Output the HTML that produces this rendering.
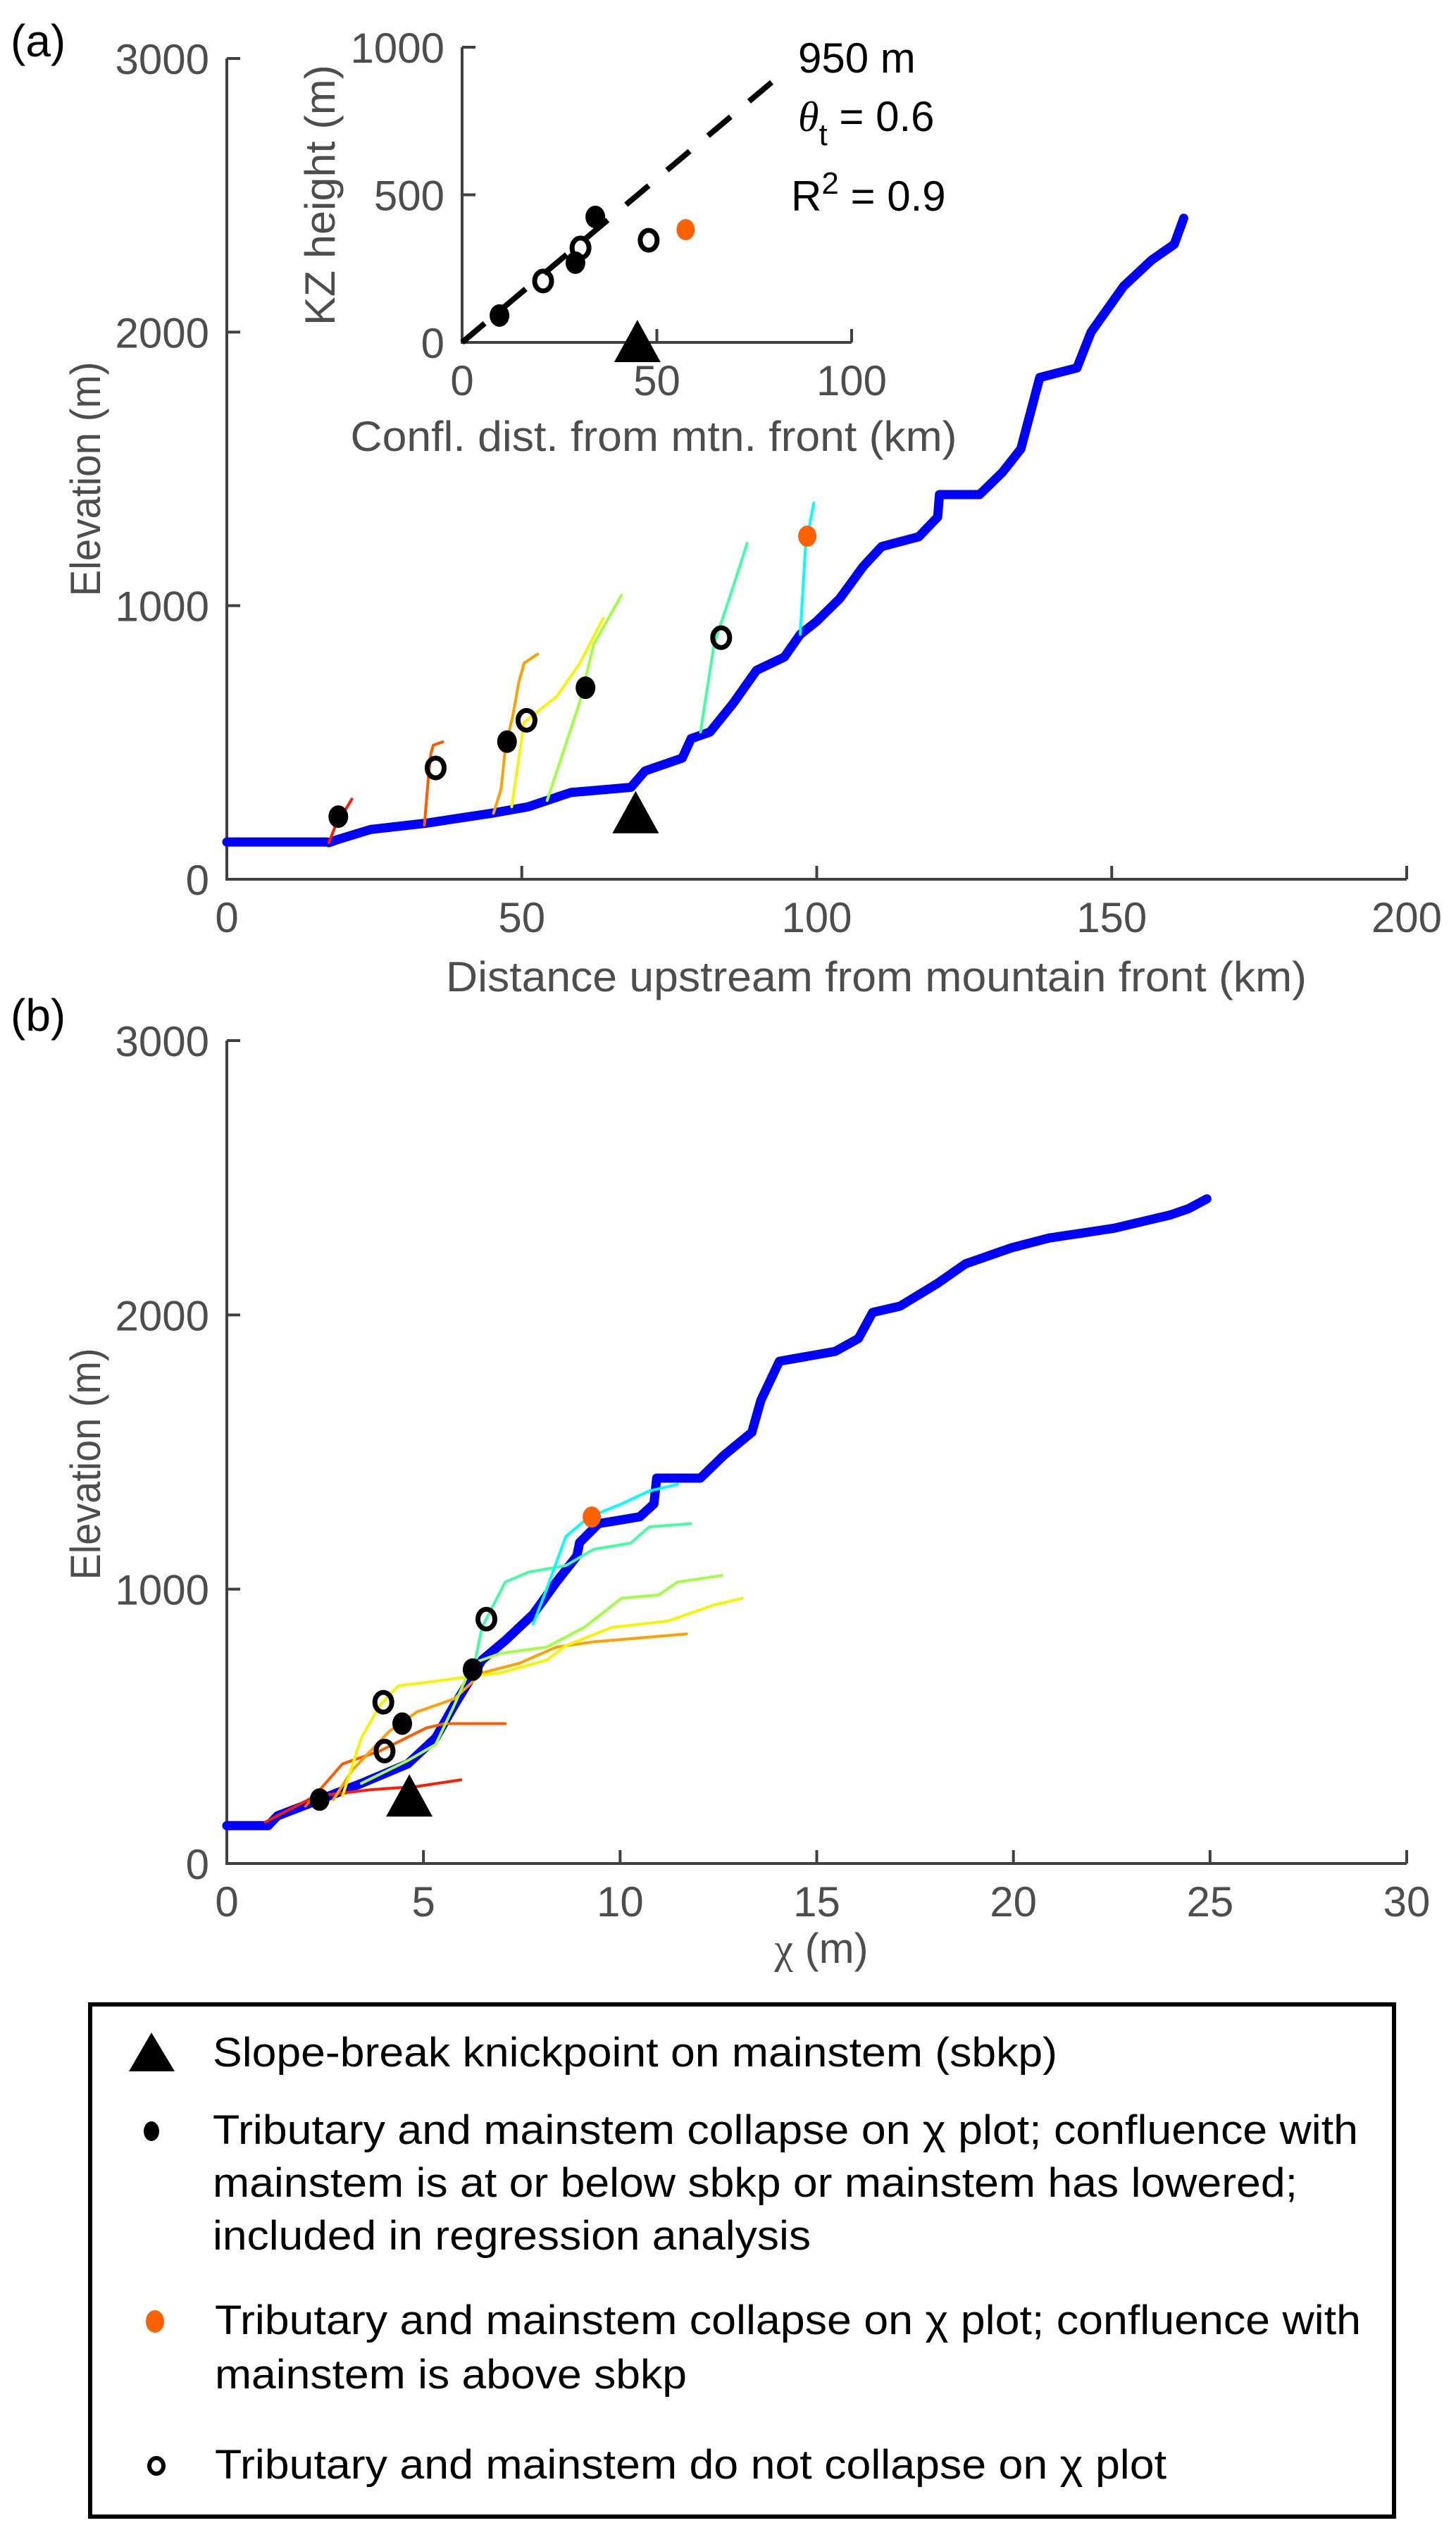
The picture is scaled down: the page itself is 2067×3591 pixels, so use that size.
<!DOCTYPE html>
<html><head><meta charset="utf-8"><style>
html,body{margin:0;padding:0;background:#fff;}
svg{display:block;font-family:"Liberation Sans",Arial,sans-serif;}
</style></head><body>
<svg id="fig" width="2067" height="3591" viewBox="0 0 2067 3591" xmlns="http://www.w3.org/2000/svg">
<g id="gA"></g>
<g id="gI"></g>
<g id="gB"></g>
<text x="15" y="80" font-size="64" fill="#000">(a)</text>
<text x="15" y="1463" font-size="64" fill="#000">(b)</text>
<text x="1244" y="1407" font-size="60" fill="#4d4d4d" text-anchor="middle" textLength="1222" lengthAdjust="spacingAndGlyphs">Distance upstream from mountain front (km)</text>
<text transform="translate(142,680) rotate(-90)" font-size="60" fill="#4d4d4d" text-anchor="middle" textLength="333" lengthAdjust="spacingAndGlyphs">Elevation (m)</text>
<text transform="translate(475,277) rotate(-90)" font-size="60" fill="#4d4d4d" text-anchor="middle" textLength="370" lengthAdjust="spacingAndGlyphs">KZ height (m)</text>
<text x="928" y="640" font-size="60" fill="#4d4d4d" text-anchor="middle" textLength="861" lengthAdjust="spacingAndGlyphs">Confl. dist. from mtn. front (km)</text>
<text x="1133" y="103" font-size="60" fill="#000">950 m</text>
<text x="1133" y="186" font-size="60" fill="#000"><tspan font-family="Liberation Serif" font-style="italic">θ</tspan><tspan font-size="44" dy="20">t</tspan><tspan dy="-20"> = 0.6</tspan></text>
<text x="1123" y="299" font-size="60" fill="#000">R<tspan font-size="44" dy="-24">2</tspan><tspan dy="24"> = 0.9</tspan></text>
<text transform="translate(142,2078) rotate(-90)" font-size="60" fill="#4d4d4d" text-anchor="middle" textLength="329" lengthAdjust="spacingAndGlyphs">Elevation (m)</text>
<text x="1166" y="2786" font-size="60" fill="#4d4d4d" text-anchor="middle"><tspan font-family="Liberation Serif">χ</tspan> (m)</text>
<g>
<rect x="128" y="2845" width="1851" height="727" fill="none" stroke="#000" stroke-width="6"/>
<polygon points="215,2885 183,2940 248,2940" fill="#000"/>
<text x="302" y="2933" font-size="58" textLength="1199" lengthAdjust="spacingAndGlyphs">Slope-break knickpoint on mainstem (sbkp)</text>
<ellipse cx="215" cy="3025" rx="11" ry="14" fill="#000"/>
<text x="302" y="3043" font-size="58" textLength="1626" lengthAdjust="spacingAndGlyphs">Tributary and mainstem collapse on χ plot; confluence with</text>
<text x="302" y="3118" font-size="58" textLength="1540" lengthAdjust="spacingAndGlyphs">mainstem is at or below sbkp or mainstem has lowered;</text>
<text x="302" y="3193" font-size="58" textLength="849" lengthAdjust="spacingAndGlyphs">included in regression analysis</text>
<ellipse cx="220" cy="3295" rx="13" ry="16" fill="#ff6000"/>
<text x="305" y="3313" font-size="58" textLength="1627" lengthAdjust="spacingAndGlyphs">Tributary and mainstem collapse on χ plot; confluence with</text>
<text x="305" y="3390" font-size="58" textLength="670" lengthAdjust="spacingAndGlyphs">mainstem is above sbkp</text>
<ellipse cx="222" cy="3500" rx="10" ry="11" fill="none" stroke="#000" stroke-width="6"/>
<text x="305" y="3518" font-size="58" textLength="1351" lengthAdjust="spacingAndGlyphs">Tributary and mainstem do not collapse on χ plot</text>
</g>
</svg>
<script>
// ---------- Panel (a) data: distance (km) vs elevation (m) ----------
const mainDist = [0,17,17.3,18.9,24.4,33.8,44.8,51.1,58.3,68.5,70.9,77.2,78.7,81.9,85.9,89.8,94.5,97.2,100,103.9,107.9,111,117.3,120.5,120.8,127.6,131.5,134.6,137.8,144.1,146.5,152,156.7,160.6,162.2];
const mainElevA = [136,136,134,146,182,205,241,265,317,336,396,443,514,538,645,764,812,895,943,1026,1144,1216,1252,1324,1406,1406,1488,1573,1834,1869,2000,2167,2262,2321,2416];
const tribColors = ["#ff1a00","#ff5a00","#ffa000","#f5f500","#a0ff40","#40ffa0","#00ffff"];
const tribDistA = [[17.3,18.5,20,21.2],[33.5,34.2,34.6,35,36.6],[45.2,46.5,47.2,48.5,49.5,50.4,52.7],[48.3,50.4,55.9,59.8,63.8],[54.3,59.8,62.2,66.9],[80.3,82.6,85.9,88.2],[97.2,98.1,99.5]];
const tribElevA = [[134,200,250,293],[198,380,460,490,502],[241,330,479,600,720,790,823],[265,573,668,788,954],[288,645,859,1038],[538,859,1073,1228],[895,1216,1375]];
const filledDistA = [18.9,47.5,60.8];
const filledElevA = [229,503,700];
const openDistA = [35.4,50.8,83.8];
const openElevA = [407,581,883];
const orangeDistA = [98.4];
const orangeElevA = [1254];
const sbkpDistA = [69.3];
const sbkpElevA = [240];
const xTicksA = [0,50,100,150,200];
const yTicks = [0,1000,2000,3000];

// ---------- Inset data ----------
const insetFilledX = [9.6,29.1,34.2];
const insetFilledY = [91,270,425];
const insetOpenX = [20.8,30.4,47.9];
const insetOpenY = [208,320,346];
const insetOrangeX = [57.4];
const insetOrangeY = [382];
const insetSbkpX = [45];
const insetFitX = [0,81];
const insetFitY = [0,898];
const insetXTicks = [0,50,100];
const insetYTicks = [0,500,1000];

// ---------- Panel (b) data: chi (m) vs elevation ----------
const mainChi = [0,1.05,1.29,2.36,3.42,4.6,5.31,5.78,6.49,7.08,7.79,8.38,8.9,8.97,9.45,10.5,10.86,10.93,12.04,12.63,13.35,13.58,14.05,15.47,16.06,16.42,17.12,18.07,18.78,19.96,20.9,22.56,23.98,24.45,24.92];
const mainElevB = [138,138,174,233,292,363,458,576,742,813,909,1026,1121,1170,1239,1264,1311,1405,1405,1487,1572,1689,1831,1867,1914,2009,2032,2115,2186,2245,2280,2316,2364,2387,2423];
const tribChiB = [[0.98,2.24,3.66,4.84,5.95],[2.0,2.94,3.89,5.07,5.54,7.08],[2.71,3.19,4.13,4.84,5.78,6.49,7.44,8.38,9.32,11.69],[2.94,3.42,3.89,4.36,5.07,6.25,6.96,8.14,8.62,9.8,11.22,12.4,13.11],[3.42,4.6,5.31,5.78,6.25,6.96,8.14,9.09,10.04,10.98,11.46,12.59],[6.25,6.49,7.08,7.67,8.62,9.32,10.27,10.74,11.8],[7.79,8.14,8.62,9.21,10.04,10.74,11.46]];
const tribElevB = [[151,245,269,281,305],[209,363,410,494,510,510],[233,340,482,553,600,695,730,789,808,837],[245,458,576,648,660,683,695,742,794,861,884,943,967],[292,375,434,576,730,766,789,861,967,979,1026,1050],[695,861,1026,1062,1086,1145,1168,1227,1239],[873,1003,1192,1263,1311,1358,1382]];
const filledChiB = [2.36,4.46,6.25];
const filledElevB = [233,510,707];
const openChiB = [4.01,3.98,6.6];
const openElevB = [410,588,891];
const orangeChiB = [9.28];
const orangeElevB = [1263];
const sbkpChiB = [4.64];
const sbkpElevB = [243];
const xTicksB = [0,5,10,15,20,25,30];

const NS = "http://www.w3.org/2000/svg";
function mk(parent, tag, attrs){ const e=document.createElementNS(NS,tag); for(const k in attrs) e.setAttribute(k,attrs[k]); parent.appendChild(e); return e; }
function lin(d0,d1,r0,r1){ return v => r0 + (v-d0)/(d1-d0)*(r1-r0); }

function axes(g, sx, sy, xt, yt, x0, x1, y0, y1, fs, prefix){
  const ax = mk(g,"path",{d:`M${sx(x0)},${sy(y1)} L${sx(x0)},${sy(y0)} L${sx(x1)},${sy(y0)}`,fill:"none",stroke:"#404040","stroke-width":4});
  
  
  xt.forEach(t=>{
    const l = mk(g,"line",{x1:sx(t),x2:sx(t),y1:sy(y0),y2:sy(y0)-19,stroke:"#404040","stroke-width":4});
    
    
    const tx = mk(g,"text",{x:sx(t),y:sy(y0)+75,"font-size":fs,fill:"#4d4d4d","text-anchor":"middle"});
    tx.textContent = t;
    
    
  });
  yt.forEach(t=>{
    const l = mk(g,"line",{x1:sx(x0),x2:sx(x0)+19,y1:sy(t),y2:sy(t),stroke:"#404040","stroke-width":4});
    
    
    const tx = mk(g,"text",{x:sx(x0)-25,y:sy(t)+22,"font-size":fs,fill:"#4d4d4d","text-anchor":"end"});
    tx.textContent = t;
    
    
  });
}
function line(g, xs, ys, sx, sy, color, w, name){
  const p = mk(g,"polyline",{points:xs.map((x,i)=>sx(x)+","+sy(ys[i])).join(" "),fill:"none",stroke:color,"stroke-width":w,"stroke-linejoin":"round","stroke-linecap":"round"});
  
  
}
function dots(g, xs, ys, sx, sy, kind, name){
  xs.forEach((x,i)=>{
    let e;
    if(kind==="filled") e = mk(g,"ellipse",{cx:sx(x),cy:sy(ys[i]),rx:14,ry:16,fill:"#000"});
    else if(kind==="orange") e = mk(g,"ellipse",{cx:sx(x),cy:sy(ys[i]),rx:13,ry:15,fill:"#ff6000"});
    else e = mk(g,"ellipse",{cx:sx(x),cy:sy(ys[i]),rx:12,ry:14,fill:"none",stroke:"#000","stroke-width":7});
    
    
  });
}
function tri(g, xs, ys, sx, sy, name){
  xs.forEach((x,i)=>{
    const cx=sx(x), cy=sy(ys[i]);
    const t = mk(g,"polygon",{points:`${cx},${cy-32} ${cx-33},${cy+28} ${cx+33},${cy+28}`,fill:"#000"});
    
    
  });
}

// Panel A
(function(){
  const g=document.getElementById("gA");
  const sx=lin(0,200,322,1997), sy=lin(0,3000,1248,83);
  axes(g,sx,sy,xTicksA,yTicks,0,200,0,3000,60,"panel-a");
  line(g,mainDist,mainElevA,sx,sy,"#0000ff",13,"mainstem-profile-a");
  tribDistA.forEach((d,i)=>line(g,d,tribElevA[i],sx,sy,tribColors[i],4,"tributary-"+(i+1)+"-a"));
  dots(g,filledDistA,filledElevA,sx,sy,"filled","collapse-point-a");
  dots(g,openDistA,openElevA,sx,sy,"open","non-collapse-point-a");
  dots(g,orangeDistA,orangeElevA,sx,sy,"orange","above-sbkp-point-a");
  tri(g,sbkpDistA,sbkpElevA,sx,sy,"sbkp-triangle-a");
})();
// Inset
(function(){
  const g=document.getElementById("gI");
  const sx=lin(0,100,656,1209), sy=lin(0,1000,486,67);
  axes(g,sx,sy,insetXTicks,insetYTicks,0,100,0,1000,60,"inset");
  line(g,insetFitX,insetFitY,sx,sy,"#000",8,"inset-regression-line");
  g.lastChild.setAttribute("stroke-dasharray","42 34");
  g.lastChild.setAttribute("stroke-linecap","butt");
  tri(g,insetSbkpX,[0],sx,sy,"inset-sbkp-triangle");
  dots(g,insetFilledX,insetFilledY,sx,sy,"filled","inset-collapse-point");
  dots(g,insetOpenX,insetOpenY,sx,sy,"open","inset-non-collapse-point");
  dots(g,insetOrangeX,insetOrangeY,sx,sy,"orange","inset-above-sbkp-point");
})();
// Panel B
(function(){
  const g=document.getElementById("gB");
  const sx=lin(0,30,322,1997), sy=lin(0,3000,2645,1477);
  axes(g,sx,sy,xTicksB,yTicks,0,30,0,3000,60,"panel-b");
  line(g,mainChi,mainElevB,sx,sy,"#0000ff",13,"mainstem-profile-b");
  tribChiB.forEach((d,i)=>line(g,d,tribElevB[i],sx,sy,tribColors[i],4,"tributary-"+(i+1)+"-b"));
  tri(g,sbkpChiB,sbkpElevB,sx,sy,"sbkp-triangle-b");
  dots(g,filledChiB,filledElevB,sx,sy,"filled","collapse-point-b");
  dots(g,openChiB,openElevB,sx,sy,"open","non-collapse-point-b");
  dots(g,orangeChiB,orangeElevB,sx,sy,"orange","above-sbkp-point-b");
})();
</script>
</body></html>
